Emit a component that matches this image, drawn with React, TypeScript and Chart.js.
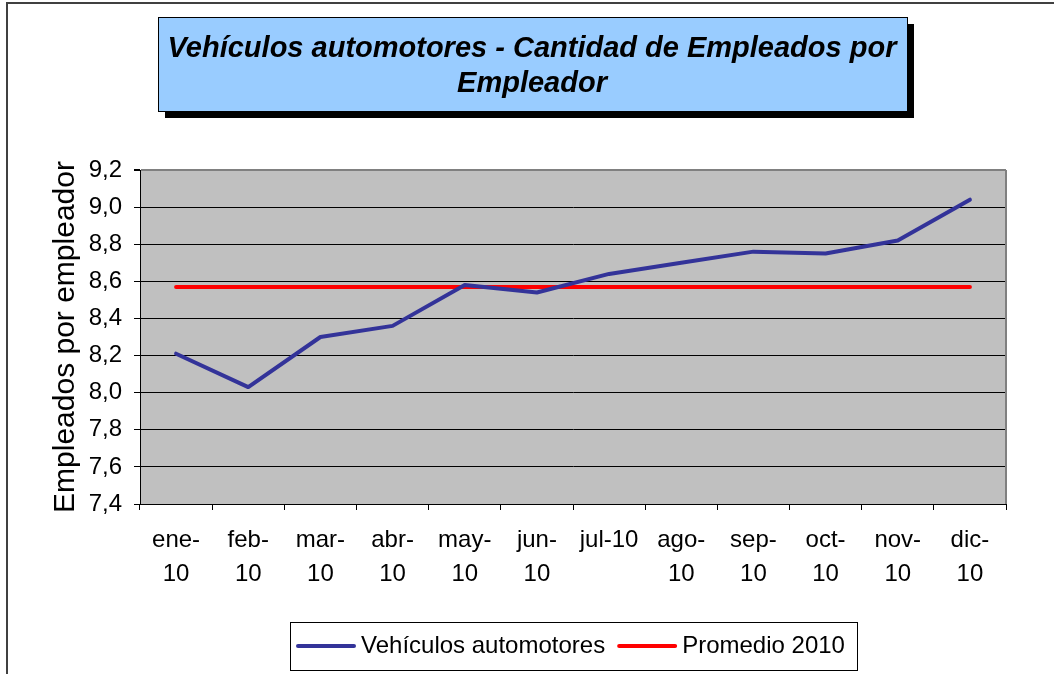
import React, { useEffect, useRef } from "react";
import { Chart, registerables } from "chart.js";

Chart.register(...registerables);

// ---- data ----
const categories: (string | string[])[] = [
  ["ene-", "10"], ["feb-", "10"], ["mar-", "10"], ["abr-", "10"],
  ["may-", "10"], ["jun-", "10"], "jul-10", ["ago-", "10"],
  ["sep-", "10"], ["oct-", "10"], ["nov-", "10"], ["dic-", "10"],
];
const vehiculos = [8.21, 8.03, 8.30, 8.36, 8.58, 8.54, 8.64, 8.70, 8.76, 8.75, 8.82, 9.04];
const promedio2010 = [8.57, 8.57, 8.57, 8.57, 8.57, 8.57, 8.57, 8.57, 8.57, 8.57, 8.57, 8.57];
const seriesNames = ["Vehículos automotores", "Promedio 2010"];
const yMin = 7.4;
const yMax = 9.2;
const yStep = 0.2;
const titleLines = ["Vehículos automotores - Cantidad de Empleados por", "Empleador"];
const yAxisTitle = "Empleados por empleador";

const FONT = "'Liberation Sans', Arial, sans-serif";

const framePlugin = {
  id: "frame",
  beforeDraw(chart: any) {
    const { ctx, chartArea } = chart;
    ctx.save();
    ctx.fillStyle = "#ffffff";
    ctx.fillRect(0, 0, chart.width, chart.height);
    // outer border
    ctx.strokeStyle = "#404040";
    ctx.lineWidth = 2;
    ctx.beginPath();
    ctx.moveTo(7, 700);
    ctx.lineTo(7, 3);
    ctx.lineTo(1100, 3);
    ctx.stroke();
    // plot area
    ctx.fillStyle = "#C0C0C0";
    ctx.fillRect(chartArea.left, chartArea.top, chartArea.right - chartArea.left, chartArea.bottom - chartArea.top);
    ctx.restore();
  },
  beforeDatasetsDraw(chart: any) {
    const { ctx, chartArea } = chart;
    ctx.save();
    ctx.strokeStyle = "#808080";
    ctx.lineWidth = 2;
    ctx.beginPath();
    ctx.moveTo(chartArea.right, chartArea.top);
    ctx.lineTo(chartArea.right, chartArea.bottom);
    ctx.stroke();
    ctx.restore();
  },
  afterDraw(chart: any) {
    const { ctx } = chart;
    ctx.save();
    // title box with shadow
    ctx.fillStyle = "#000000";
    ctx.fillRect(165, 24, 749, 94);
    ctx.fillStyle = "#99CCFF";
    ctx.fillRect(158, 17, 749, 94);
    ctx.strokeStyle = "#000000";
    ctx.lineWidth = 1;
    ctx.strokeRect(158.5, 17.5, 749, 94);
    ctx.fillStyle = "#000000";
    ctx.font = `italic bold 29px ${FONT}`;
    ctx.textAlign = "center";
    ctx.textBaseline = "alphabetic";
    titleLines.forEach((line, i) => {
      ctx.fillText(line, 532, 57 + i * 35);
    });

    // legend
    ctx.fillStyle = "#ffffff";
    ctx.fillRect(290, 622, 567, 48);
    ctx.strokeStyle = "#000000";
    ctx.lineWidth = 1;
    ctx.strokeRect(290.5, 622.5, 567, 48);
    ctx.font = `24px ${FONT}`;
    ctx.textAlign = "left";
    ctx.textBaseline = "middle";
    let x = 297;
    const y = 646;
    chart.data.datasets.forEach((ds: any) => {
      ctx.strokeStyle = ds.borderColor;
      ctx.lineWidth = 4;
      ctx.lineCap = "round";
      ctx.beginPath();
      ctx.moveTo(x + 1, y);
      ctx.lineTo(x + 57, y);
      ctx.stroke();
      ctx.fillStyle = "#000000";
      ctx.fillText(ds.label, x + 64, y);
      x = x + 64 + ctx.measureText(ds.label).width + 13;
    });
    ctx.restore();
  },
};

export default function App() {
  const canvasRef = useRef<HTMLCanvasElement | null>(null);

  useEffect(() => {
    document.body.style.margin = "0";
    const canvas = canvasRef.current;
    if (!canvas) return;
    const chart = new Chart(canvas, {
      type: "line",
      data: {
        labels: categories as any,
        datasets: [
          {
            label: seriesNames[0],
            data: vehiculos,
            borderColor: "#333399",
            backgroundColor: "#333399",
            borderWidth: 4,
            pointRadius: 0,
            borderCapStyle: "round",
            borderJoinStyle: "round",
            tension: 0,
          },
          {
            label: seriesNames[1],
            data: promedio2010,
            borderColor: "#FF0000",
            backgroundColor: "#FF0000",
            borderWidth: 4,
            pointRadius: 0,
            borderCapStyle: "round",
            borderJoinStyle: "round",
            tension: 0,
          },
        ],
      },
      options: {
        responsive: false,
        animation: false,
        devicePixelRatio: 1,
        layout: { padding: { top: 170, right: 48, left: 0, bottom: 0 } },
        plugins: {
          legend: { display: false },
          title: { display: false },
          tooltip: { enabled: false },
        },
        scales: {
          x: {
            type: "category",
            offset: true,
            grid: {
              offset: true,
              drawOnChartArea: false,
              drawTicks: true,
              tickLength: 6,
              color: "#000000",
            },
            border: { display: true, color: "#000000", width: 1 },
            ticks: {
              color: "#000000",
              font: { family: FONT, size: 24, lineHeight: 1.42 },
              padding: 13,
              maxRotation: 0,
              minRotation: 0,
              autoSkip: false,
            },
            afterFit: (s: any) => {
              s.height = 170;
            },
          },
          y: {
            min: yMin,
            max: yMax,
            ticks: {
              stepSize: yStep,
              color: "#000000",
              font: { family: FONT, size: 24 },
              padding: 12,
              callback: (v: any) => Number(v).toFixed(1).replace(".", ","),
            },
            grid: {
              color: (c: any) => (c.tick && Math.abs(c.tick.value - yMax) < 1e-6 ? "#808080" : "#000000"),
              lineWidth: (c: any) => (c.tick && Math.abs(c.tick.value - yMax) < 1e-6 ? 2 : 1),
              tickColor: "#000000",
              tickLength: 6,
            },
            border: { display: true, color: "#000000", width: 1 },
            title: {
              display: true,
              text: yAxisTitle,
              color: "#000000",
              font: { family: FONT, size: 30 },
              padding: { top: 48, bottom: 0 },
            },
            afterFit: (s: any) => {
              s.width = 140;
            },
          },
        },
      },
      plugins: [framePlugin],
    } as any);
    return () => chart.destroy();
  }, []);

  return (
    <div style={{ position: "absolute", left: 0, top: 0, width: 1054, height: 674 }}>
      <canvas ref={canvasRef} width={1054} height={674} style={{ width: 1054, height: 674, display: "block" }} />
    </div>
  );
}
